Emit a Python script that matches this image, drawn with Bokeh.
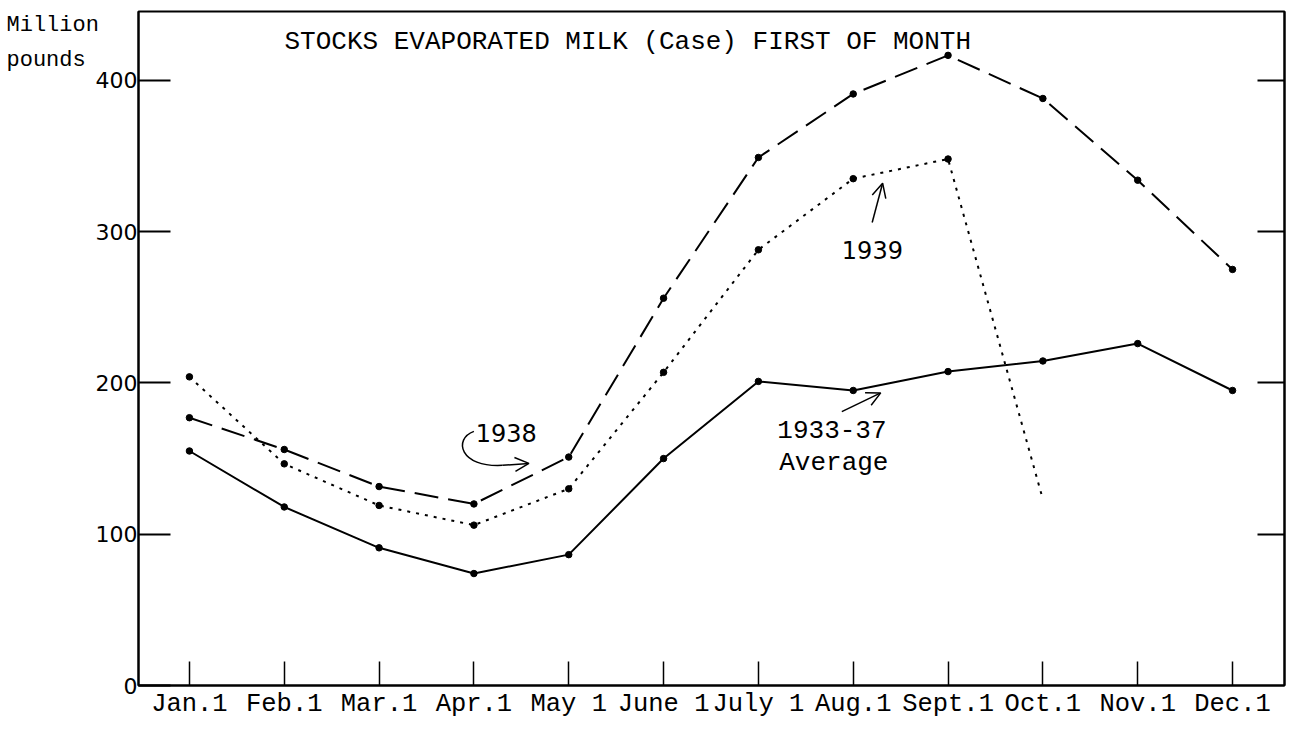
from bokeh.plotting import figure
from bokeh.models import Range1d, LinearAxis, FixedTicker, Label, Arrow, OpenHead
from bokeh.embed import file_html
from bokeh.resources import INLINE

# ---------------- data ----------------
months = ["Jan.1", "Feb.1", "Mar.1", "Apr.1", "May 1", "June 1",
          "July 1", "Aug.1", "Sept.1", "Oct.1", "Nov.1", "Dec.1"]
month_index = list(range(12))
avg_1933_37 = [155, 118, 91, 74, 86.5, 150, 201, 195, 207.5, 214.5, 226, 195]
stocks_1938 = [177, 156, 131.5, 120, 151, 256, 349, 391, 416.5, 388, 334, 275]
stocks_1939 = [204, 146.5, 119, 106, 130, 207, 288, 335, 348]
stocks_1939_line_end = [123]          # dotted line falls toward Oct. (no point)
y_ticks = [0, 100, 200, 300, 400]
y_ticks_right = [100, 200, 300, 400]

TYPE = "Liberation Mono"
LETTER = "DejaVu Sans"

p = figure(width=1301, height=721,
           x_range=Range1d(-0.537, 11.548), y_range=Range1d(0, 445.5),
           output_backend="svg", toolbar_location=None,
           min_border_left=137, min_border_right=17,
           min_border_top=11, min_border_bottom=35)
p.grid.visible = False
p.outline_line_color = "black"
p.outline_line_width = 2
p.background_fill_color = "white"
p.border_fill_color = "white"

# x axis
xa = p.xaxis[0]
xa.ticker = FixedTicker(ticks=month_index)
xa.major_label_overrides = {i: m for i, m in zip(month_index, months)}
xa.major_tick_in = 24
xa.major_tick_out = 0
xa.major_tick_line_width = 1.5
xa.minor_tick_line_color = None
xa.axis_line_width = 2
xa.major_label_text_font = TYPE
xa.major_label_text_font_size = "25.5px"
xa.major_label_text_color = "black"
xa.major_label_standoff = 4

# left y axis
ya = p.yaxis[0]
ya.ticker = FixedTicker(ticks=y_ticks)
ya.major_tick_in = 32
ya.major_tick_out = 0
ya.major_tick_line_width = 2
ya.minor_tick_line_color = None
ya.axis_line_width = 2
ya.major_label_text_font = LETTER
ya.major_label_text_font_size = "22px"
ya.major_label_text_color = "black"
ya.major_label_standoff = 1

# right y axis (ticks only)
ra = LinearAxis(ticker=FixedTicker(ticks=y_ticks_right),
                major_tick_in=27, major_tick_out=0, major_tick_line_width=2,
                minor_tick_line_color=None, axis_line_width=2,
                major_label_overrides={t: "" for t in y_ticks_right},
                major_label_standoff=0)
p.add_layout(ra, "right")

# series
p.line(month_index, avg_1933_37, line_color="black", line_width=2)
p.scatter(month_index, avg_1933_37, size=6.5, color="black")

p.line(month_index, stocks_1938, line_color="black", line_width=2, line_dash="24 10")
p.scatter(month_index, stocks_1938, size=6.5, color="black")

x1939 = month_index[:len(stocks_1939) + len(stocks_1939_line_end)]
p.line(x1939, stocks_1939 + stocks_1939_line_end, line_color="black",
       line_width=2, line_dash="3 6")
p.scatter(month_index[:len(stocks_1939)], stocks_1939, size=6.5, color="black")

# unit label in the left border
unit = Label(x=6, y=673, x_units="screen", y_units="screen", text="Million\npounds",
             text_font=TYPE, text_font_size="22px", text_baseline="top",
             text_line_height=1.4, text_color="black")
p.add_layout(unit, "left")

p.add_layout(Label(x=146, y=659, x_units="screen", y_units="screen",
                   text="STOCKS EVAPORATED MILK (Case) FIRST OF MONTH",
                   text_font=TYPE, text_font_size="26px", text_baseline="top",
                   text_color="black"))

p.add_layout(Label(x=3.02, y=167, text="1938", text_font=LETTER,
                   text_font_size="24px", text_baseline="alphabetic", text_color="black"))
p.add_layout(Label(x=6.88, y=288, text="1939", text_font=LETTER,
                   text_font_size="24px", text_baseline="alphabetic", text_color="black"))
p.add_layout(Label(x=6.2, y=169, text="1933-37", text_font=TYPE,
                   text_font_size="26px", text_baseline="alphabetic", text_color="black"))
p.add_layout(Label(x=6.22, y=147, text="Average", text_font=TYPE,
                   text_font_size="26px", text_baseline="alphabetic", text_color="black"))

# arrows
p.bezier(x0=[3.0], y0=[168], x1=[3.3], y1=[145.5],
         cx0=[2.78], cy0=[163], cx1=[2.85], cy1=[144],
         line_color="black", line_width=1.5)
p.add_layout(Arrow(end=OpenHead(size=14, line_width=1.5), line_width=1.5,
                   x_start=3.3, y_start=145.5, x_end=3.58, y_end=146.8))
p.add_layout(Arrow(end=OpenHead(size=14, line_width=1.5), line_width=1.5,
                   x_start=7.2, y_start=306, x_end=7.31, y_end=332))
p.add_layout(Arrow(end=OpenHead(size=14, line_width=1.5), line_width=1.5,
                   x_start=6.88, y_start=181, x_end=7.29, y_end=193.4))

open("out.html", "w").write(file_html(p, INLINE))
